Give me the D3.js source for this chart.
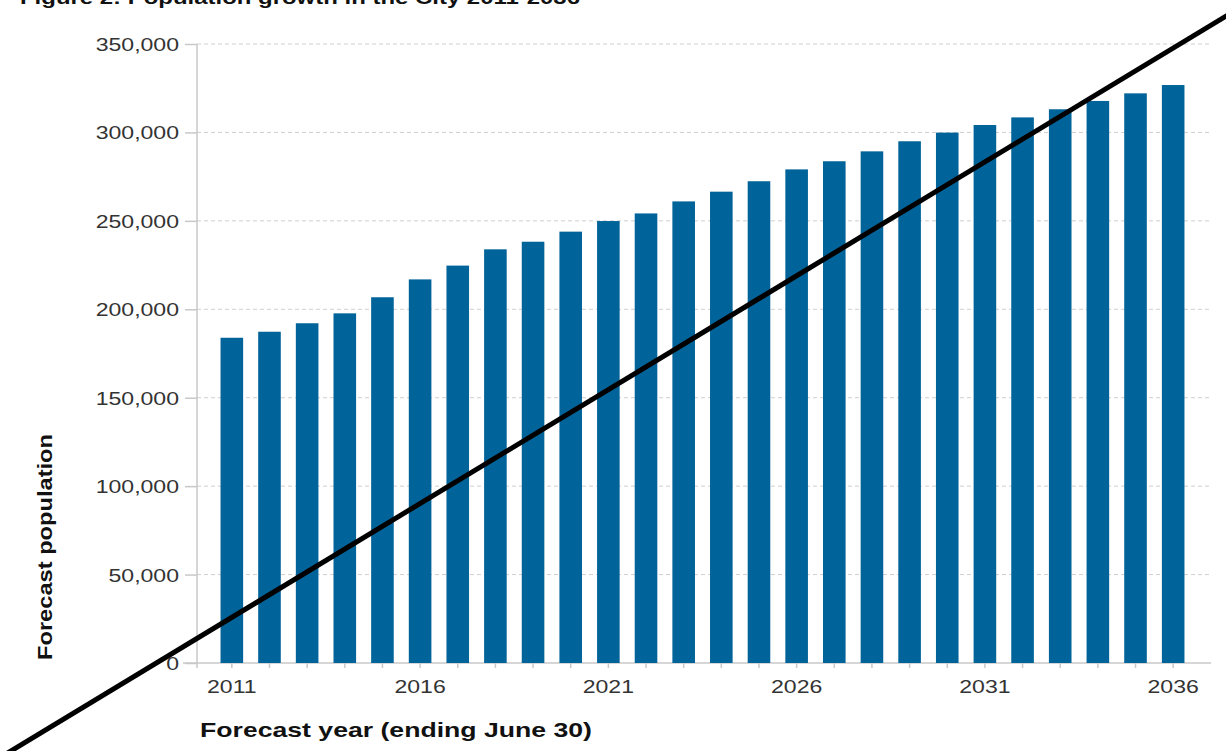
<!DOCTYPE html>
<html>
<head>
<meta charset="utf-8">
<script src="https://cdn.jsdelivr.net/npm/d3@7"></script>
<style>
  body { margin: 0; background: #fff; }
  svg { display: block; font-family: "Liberation Sans", Arial, sans-serif; }
</style>
</head>
<body>
<svg width="1226" height="751"></svg>
<script>
// data (population at June 30 each year)
const years = [2011, 2012, 2013, 2014, 2015, 2016, 2017, 2018, 2019, 2020, 2021, 2022, 2023,
               2024, 2025, 2026, 2027, 2028, 2029, 2030, 2031, 2032, 2033, 2034, 2035, 2036];
const population = [183900, 187300, 192100, 197700, 206800, 216900, 224700, 233900, 238200, 243900,
                    249900, 254200, 261000, 266500, 272400, 279100, 283700, 289300, 295000, 299900,
                    304200, 308500, 313100, 317800, 322100, 326800];
const yTicks = [0, 50000, 100000, 150000, 200000, 250000, 300000, 350000];
const yearLabels = [2011, 2016, 2021, 2026, 2031, 2036];

// the black stroke drawn across the chart, in data terms (year, population)
const strikeYears = [2004.57, 2037.66];
const strikeValues = [-57000, 369100];

const titleText = "Figure 2: Population growth in the City 2011-2036";
const xTitle = "Forecast year (ending June 30)";
const yTitle = "Forecast population";

const data = years.map((y, i) => ({ year: y, value: population[i] }));

// picture looks stretched sideways, so the text gets widened a bit
const stretch = 1.24;
function widen(sel, k) {
  sel.each(function() {
    const len = this.getComputedTextLength();
    d3.select(this).attr("textLength", len * k).attr("lengthAdjust", "spacingAndGlyphs");
  });
}

let margin = {top: 44, left: 197, right: 1211, bottom: 663};
const svg = d3.select("svg");

// scales
var x = d3.scaleBand()
  .domain(years)
  .range([margin.left, 1208])
  .paddingInner(0.4)
  .paddingOuter(0.625);

var y = d3.scaleLinear()
  .domain([0, 350000])
  .range([margin.bottom, margin.top]);

// gridlines (dashed)
svg.append("g")
  .selectAll("line")
  .data(yTicks.filter(d => d > 0))
  .enter()
  .append("line")
  .attr("x1", margin.left)
  .attr("x2", margin.right)
  .attr("y1", d => y(d))
  .attr("y2", d => y(d))
  .attr("stroke", "#cfcfcf")
  .attr("stroke-width", 1)
  .attr("stroke-dasharray", "4,3");

// y axis
const yAxis = svg.append("g")
  .attr("transform", "translate(" + margin.left + ",0)")
  .call(d3.axisLeft(y).tickValues(yTicks).tickFormat(d3.format(",")).tickSize(12).tickPadding(6).tickSizeOuter(0));
yAxis.select(".domain").remove();
yAxis.selectAll(".tick line").attr("stroke", "#c8c8c8").attr("stroke-width", 1.5);
yAxis.selectAll("text")
  .attr("fill", "#333")
  .style("font-size", "18.6px")
  .attr("dy", "0.35em");
widen(yAxis.selectAll("text"), stretch);

// y axis line, goes a little below the baseline
svg.append("line")
  .attr("x1", margin.left).attr("x2", margin.left)
  .attr("y1", margin.top).attr("y2", margin.bottom + 5)
  .attr("stroke", "#c8c8c8")
  .attr("stroke-width", 1.5);

// x axis with a tick under every bar, labels only every 5 years
const xAxis = svg.append("g")
  .attr("transform", "translate(0," + margin.bottom + ")")
  .call(d3.axisBottom(x).tickSize(5).tickPadding(12)
    .tickFormat(d => yearLabels.includes(d) ? d : ""));
xAxis.select(".domain").remove();
xAxis.selectAll(".tick line").attr("stroke", "#c8c8c8").attr("stroke-width", 1.5);
xAxis.selectAll("text")
  .attr("fill", "#333")
  .style("font-size", "18.6px");
widen(xAxis.selectAll("text").filter(d => yearLabels.includes(d)), stretch);

svg.append("line")
  .attr("x1", 183).attr("x2", margin.right)
  .attr("y1", margin.bottom).attr("y2", margin.bottom)
  .attr("stroke", "#c8c8c8")
  .attr("stroke-width", 1.5);

// the bars
svg.append("g")
  .selectAll("rect")
  .data(data)
  .enter()
  .append("rect")
  .attr("x", d => x(d.year))
  .attr("width", x.bandwidth())
  .attr("y", d => y(d.value))
  .attr("height", d => y(0) - y(d.value))
  .attr("fill", "#006399");

// title, cut off at the top of the picture like in the original
svg.append("text")
  .attr("x", 20)
  .attr("y", 4)
  .style("font-size", "19px")
  .style("font-weight", "bold")
  .attr("fill", "#111")
  .attr("textLength", 560)
  .attr("lengthAdjust", "spacingAndGlyphs")
  .text(titleText);

// axis names
svg.append("text")
  .attr("x", 200)
  .attr("y", 737)
  .style("font-size", "21px")
  .style("font-weight", "bold")
  .attr("fill", "#111")
  .attr("textLength", 392)
  .attr("lengthAdjust", "spacingAndGlyphs")
  .text(xTitle);

svg.append("text")
  .attr("transform", "translate(52,547) rotate(-90)")
  .attr("text-anchor", "middle")
  .style("font-size", "21px")
  .style("font-weight", "bold")
  .attr("fill", "#111")
  .attr("textLength", 226)
  .attr("lengthAdjust", "spacingAndGlyphs")
  .text(yTitle);

// the diagonal black stroke over everything
var xYear = d3.scaleLinear()
  .domain([years[0], years[years.length - 1]])
  .range([x(years[0]) + x.bandwidth() / 2, x(years[years.length - 1]) + x.bandwidth() / 2]);

svg.append("path")
  .datum(strikeYears.map((yr, i) => [yr, strikeValues[i]]))
  .attr("d", d3.line().x(d => xYear(d[0])).y(d => y(d[1])))
  .attr("stroke", "#000")
  .attr("stroke-width", 5)
  .attr("fill", "none");
</script>
</body>
</html>
